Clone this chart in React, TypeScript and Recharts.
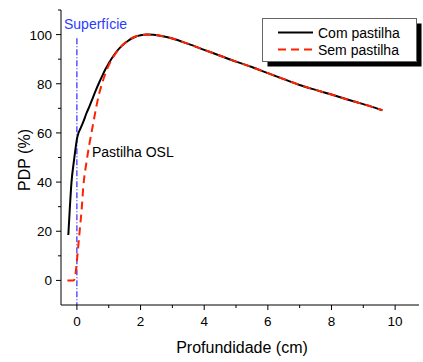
import React from 'react';
import { LineChart, Line, XAxis, YAxis, ReferenceLine } from 'recharts';

// Com pastilha (black, solid)
const COM_X = [-0.27, -0.22, -0.17, -0.1, -0.05, 0, 0.05, 0.1, 0.2, 0.3, 0.4, 0.5, 0.6, 0.7, 0.8, 0.9, 1.0, 1.2, 1.4, 1.6, 1.8, 2.0, 2.2, 2.4, 2.7, 3.0, 3.5, 4.0, 4.5, 5.0, 5.5, 6.0, 6.5, 7.0, 7.5, 8.0, 8.5, 9.0, 9.3, 9.6];
const COM_Y = [18.5, 30, 40, 48, 53, 57.5, 60, 61.5, 64.5, 68, 71, 74.3, 77.5, 80.5, 83.3, 86, 88.3, 92.3, 95.3, 97.4, 98.9, 99.7, 100, 99.9, 99.3, 98.4, 96.2, 93.8, 91.4, 89, 86.8, 84.3, 81.9, 79.5, 77.5, 75.6, 73.6, 71.7, 70.5, 69.2];

// Sem pastilha (red, dashed)
const SEM_X = [-0.3, -0.1, -0.05, 0, 0.05, 0.1, 0.15, 0.2, 0.3, 0.4, 0.5, 0.6, 0.7, 0.8, 1.0, 1.2, 1.4, 1.6, 1.8, 2.0, 2.2, 2.4, 2.7, 3.0, 3.5, 4.0, 4.5, 5.0, 5.5, 6.0, 6.5, 7.0, 7.5, 8.0, 8.5, 9.0, 9.3, 9.6];
const SEM_Y = [0, 0, 2, 8, 15, 22, 29, 38, 48, 56, 63, 70, 76, 80.5, 87.5, 92, 95.3, 97.5, 99, 99.7, 100, 99.9, 99.3, 98.4, 96.2, 93.8, 91.4, 89, 86.8, 84.3, 81.9, 79.5, 77.5, 75.6, 73.6, 71.7, 70.5, 69.2];

const X_TICKS = [0, 1, 2, 3, 4, 5, 6, 7, 8, 9, 10];
const Y_TICKS = [0, 10, 20, 30, 40, 50, 60, 70, 80, 90, 100, 110];

const comData = COM_X.map((x, i) => ({ x, y: COM_Y[i] }));
const semData = SEM_X.map((x, i) => ({ x, y: SEM_Y[i] }));

const FONT = 'Arial, "Liberation Sans", sans-serif';
const RED = '#ff2200';

const BottomTick = (props: any) => {
  const { x, y, payload } = props;
  const major = payload.value % 2 === 0;
  return (
    <g>
      <line x1={x} x2={x} y1={y} y2={y + (major ? 5 : 3)} stroke="#000" />
      {major && (
        <text x={x} y={y + 21} textAnchor="middle" fontSize={13.5} fill="#000" fontFamily={FONT}>
          {payload.value}
        </text>
      )}
    </g>
  );
};

const TopTick = (props: any) => {
  const { x, y, payload } = props;
  const major = payload.value % 2 === 0;
  return <line x1={x} x2={x} y1={y} y2={y + (major ? 5 : 3)} stroke="#000" />;
};

const LeftTick = (props: any) => {
  const { x, y, payload } = props;
  const major = payload.value % 20 === 0 && payload.value <= 100;
  return (
    <g>
      <line x1={x - (major ? 5 : 3)} x2={x} y1={y} y2={y} stroke="#000" />
      {major && (
        <text x={x - 9} y={y + 5} textAnchor="end" fontSize={13.5} fill="#000" fontFamily={FONT}>
          {payload.value}
        </text>
      )}
    </g>
  );
};

const RightTick = (props: any) => {
  const { x, y, payload } = props;
  const major = payload.value % 20 === 0;
  return <line x1={x - (major ? 5 : 3)} x2={x} y1={y} y2={y} stroke="#000" />;
};

export default function App() {
  return (
    <div style={{ position: 'absolute', left: 0, top: 0, width: 423, height: 362, background: '#fff', fontFamily: FONT }}>
      <LineChart width={423} height={362} data={comData} margin={{ top: 10, right: 4, bottom: 0, left: 0 }}>
        <XAxis
          xAxisId="b"
          dataKey="x"
          type="number"
          domain={[-0.5, 10.75]}
          ticks={X_TICKS}
          height={57}
          tickSize={0}
          tickMargin={0}
          tickLine={false}
          axisLine={{ stroke: '#000' }}
          tick={<BottomTick />}
          allowDataOverflow
        />
        <XAxis
          xAxisId="t"
          orientation="top"
          dataKey="x"
          type="number"
          domain={[-0.5, 10.75]}
          ticks={X_TICKS}
          height={0}
          tickSize={0}
          tickMargin={0}
          tickLine={false}
          axisLine={{ stroke: '#000' }}
          tick={<TopTick />}
          allowDataOverflow
        />
        <YAxis
          yAxisId="l"
          type="number"
          domain={[-10, 110]}
          ticks={Y_TICKS}
          width={61}
          tickSize={0}
          tickMargin={0}
          tickLine={false}
          axisLine={{ stroke: '#000' }}
          tick={<LeftTick />}
          allowDataOverflow
        />
        <YAxis
          yAxisId="r"
          orientation="right"
          type="number"
          domain={[-10, 110]}
          ticks={Y_TICKS}
          width={0}
          tickSize={0}
          tickMargin={0}
          tickLine={false}
          axisLine={{ stroke: '#000' }}
          tick={<RightTick />}
          allowDataOverflow
        />
        <ReferenceLine
          xAxisId="b"
          yAxisId="l"
          segment={[{ x: 0, y: 98.5 }, { x: 0, y: -10 }]}
          stroke="#0000ff"
          strokeWidth={1}
          strokeDasharray="6 2 1 2"
        />
        <Line
          xAxisId="b"
          yAxisId="l"
          data={comData}
          dataKey="y"
          type="monotone"
          stroke="#000"
          strokeWidth={2}
          dot={false}
          isAnimationActive={false}
        />
        <Line
          xAxisId="b"
          yAxisId="l"
          data={semData}
          dataKey="y"
          type="monotone"
          stroke={RED}
          strokeWidth={2}
          strokeDasharray="8 5"
          dot={false}
          isAnimationActive={false}
        />
      </LineChart>
      <svg width={423} height={362} style={{ position: 'absolute', left: 0, top: 0, pointerEvents: 'none' }}>
        <text x={64} y={29} fontSize={14} fill="#2a3cff" fontFamily={FONT}>Superfície</text>
        <text x={92} y={157} fontSize={14} fill="#000" fontFamily={FONT}>Pastilha OSL</text>
        <text x={242} y={353} fontSize={16} fill="#000" textAnchor="middle" fontFamily={FONT}>Profundidade (cm)</text>
        <text x={30} y={160} fontSize={16} fill="#000" textAnchor="middle" fontFamily={FONT} transform="rotate(-90 30 160)">PDP (%)</text>
        <rect x={267.5} y={23.5} width={154} height={43} fill="#000" />
        <rect x={262.5} y={18.5} width={154} height={43} fill="#fff" stroke="#666" />
        <line x1={278} x2={313} y1={32.5} y2={32.5} stroke="#000" strokeWidth={2} />
        <line x1={278} x2={313} y1={49.5} y2={49.5} stroke={RED} strokeWidth={2} strokeDasharray="8 5" />
        <text x={318} y={37.5} fontSize={14} fill="#000" fontFamily={FONT}>Com pastilha</text>
        <text x={318} y={54.5} fontSize={14} fill="#000" fontFamily={FONT}>Sem pastilha</text>
      </svg>
    </div>
  );
}
